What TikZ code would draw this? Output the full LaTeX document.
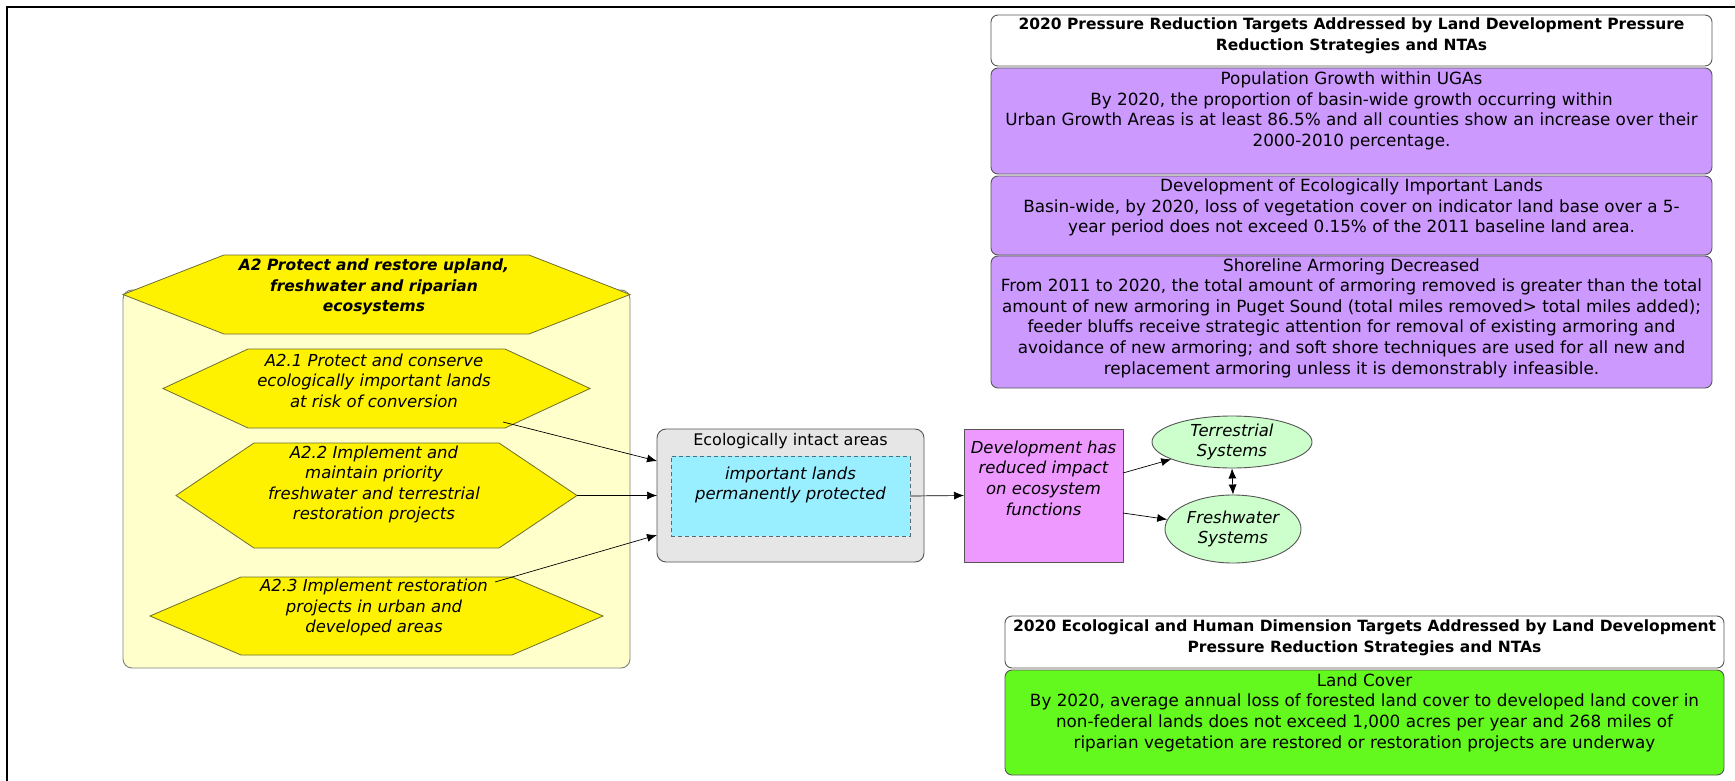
\documentclass[tikz,border=0pt]{standalone}
\usepackage{fontspec}
\setmainfont{DejaVu Sans}
\usetikzlibrary{arrows.meta,shapes.geometric}
\definecolor{purp}{HTML}{CC99FF}
\definecolor{magb}{HTML}{EE99FF}
\definecolor{cyanb}{HTML}{99EEFF}
\definecolor{greenb}{HTML}{64F91E}
\definecolor{ellg}{HTML}{CCFFCC}
\definecolor{contb}{HTML}{FFFFCC}
\definecolor{grayb}{HTML}{E6E6E6}
\definecolor{hexb}{HTML}{6E6E30}
\definecolor{edge}{HTML}{555555}
\definecolor{dashc}{HTML}{4F6F7A}
\begin{document}
\begin{tikzpicture}[x=1pt,y=-1pt,
  box/.style={draw=edge, line width=0.9pt, rounded corners=7pt, inner sep=0pt, outer sep=0pt},
  hexframe/.style={inner sep=0pt, outer sep=0pt},
  rtxt/.style={align=center, inner sep=0pt, font=\fontsize{16.8}{20.6}\selectfont},
  gtxt/.style={align=center, inner sep=0pt, font=\fontsize{16}{20.6}\selectfont},
  itxt/.style={align=center, inner sep=0pt, font=\fontsize{16.5}{20.6}\selectfont\itshape},
  btxt/.style={align=center, inner sep=0pt, font=\fontsize{15.5}{20.5}\selectfont\bfseries},
  bitxt/.style={align=center, inner sep=0pt, font=\fontsize{15.5}{20.5}\selectfont\bfseries\itshape},
  hex/.style={draw=hexb, fill=yellow, line width=0.8pt},
  tip/.style={},
  arr/.style={-{Latex[length=10pt,width=8pt]}, line width=0.7pt},
  darr/.style={{Latex[length=10pt,width=8pt]}-{Latex[length=10pt,width=8pt]}, line width=0.7pt},
]
\useasboundingbox (0,0) rectangle (1735,781);
\fill[white] (0,0) rectangle (1735,781);
\draw[line width=1.5pt] (1735,7) -- (7,7) -- (7,781);

% top-right target panel
\node[box, fill=white, minimum width=721pt, minimum height=51pt] (tr) at (1351.5,40.5) {};
\node[btxt] (trt) at (1351.5,36) {2020 Pressure Reduction Targets Addressed by Land Development Pressure\\Reduction Strategies and NTAs};
\node[box, fill=purp, minimum width=721pt, minimum height=106pt] (p1) at (1351.5,121) {};
\node[rtxt] (p1t) at (1351.5,111) {Population Growth within UGAs\\By 2020, the proportion of basin-wide growth occurring within\\Urban Growth Areas is at least 86.5\% and all counties show an increase over their\\2000-2010 percentage.};
\node[box, fill=purp, minimum width=721pt, minimum height=79pt] (p2) at (1351.5,215.5) {};
\node[rtxt] (p2t) at (1351.5,207.5) {Development of Ecologically Important Lands\\Basin-wide, by 2020, loss of vegetation cover on indicator land base over a 5-\\year period does not exceed 0.15\% of the 2011 baseline land area.};
\node[box, fill=purp, minimum width=721pt, minimum height=132pt] (p3) at (1351.5,322) {};
\node[rtxt] (p3t) at (1351.5,318) {Shoreline Armoring Decreased\\From 2011 to 2020, the total amount of armoring removed is greater than the total\\amount of new armoring in Puget Sound (total miles removed> total miles added);\\feeder bluffs receive strategic attention for removal of existing armoring and\\avoidance of new armoring; and soft shore techniques are used for all new and\\replacement armoring unless it is demonstrably infeasible.};

% bottom-right target panel
\node[box, fill=white, minimum width=719pt, minimum height=52pt] (br) at (1364.5,642) {};
\node[btxt] (brt) at (1364.5,638) {2020 Ecological and Human Dimension Targets Addressed by Land Development\\Pressure Reduction Strategies and NTAs};
\node[box, fill=greenb, minimum width=719pt, minimum height=105pt] (gr) at (1364.5,722.5) {};
\node[rtxt] (grt) at (1364.5,712.5) {Land Cover\\By 2020, average annual loss of forested land cover to developed land cover in\\non-federal lands does not exceed 1,000 acres per year and 268 miles of\\riparian vegetation are restored or restoration projects are underway};

% strategy container
\node[box, draw=black!50, fill=contb, rounded corners=9pt, minimum width=507pt, minimum height=378pt] (cont) at (376.5,479) {};

% hexagons
\node[hexframe, minimum width=507pt, minimum height=79pt] (a2) at (376.5,294.5) {};
\draw[hex] (a2.west) -- ([xshift=101pt]a2.north west) -- ([xshift=-101pt]a2.north east) -- (a2.east) -- ([xshift=-101pt]a2.south east) -- ([xshift=101pt]a2.south west) -- cycle;
\node[bitxt] (a2t) at (374,287) {A2 Protect and restore upland,\\freshwater and riparian\\ecosystems};

\node[hexframe, minimum width=427pt, minimum height=79pt] (a21) at (376.5,388.5) {};
\draw[hex] (a21.west) -- ([xshift=85pt]a21.north west) -- ([xshift=-85pt]a21.north east) -- (a21.east) -- ([xshift=-85pt]a21.south east) -- ([xshift=85pt]a21.south west) -- cycle;
\node[itxt] (a21t) at (374,380.7) {A2.1 Protect and conserve\\ecologically important lands\\at risk of conversion};

\node[hexframe, minimum width=401pt, minimum height=105pt] (a22) at (376.5,495.5) {};
\draw[hex] (a22.west) -- ([xshift=78pt]a22.north west) -- ([xshift=-78pt]a22.north east) -- (a22.east) -- ([xshift=-78pt]a22.south east) -- ([xshift=78pt]a22.south west) -- cycle;
\node[itxt] (a22t) at (374,484.5) {A2.2 Implement and\\maintain priority\\freshwater and terrestrial\\restoration projects};

\node[hexframe, minimum width=453pt, minimum height=78pt] (a23) at (376.5,616) {};
\draw[hex] (a23.west) -- ([xshift=91pt]a23.north west) -- ([xshift=-91pt]a23.north east) -- (a23.east) -- ([xshift=-91pt]a23.south east) -- ([xshift=91pt]a23.south west) -- cycle;
\node[itxt] (a23t) at (374,607.7) {A2.3 Implement restoration\\projects in urban and\\developed areas};

% intact areas
\node[box, fill=grayb, rounded corners=9pt, minimum width=267pt, minimum height=133pt] (gray) at (790.5,495.5) {};
\node[gtxt] (grayt) at (790.5,441) {Ecologically intact areas};
\node[draw=dashc, dash pattern=on 4pt off 3pt, fill=cyanb, line width=0.9pt, inner sep=0pt, outer sep=0pt, minimum width=239pt, minimum height=80pt] (cyan) at (790.5,496) {};
\node[itxt] (cyant) at (790.5,485) {important lands\\permanently protected};

% result
\node[draw=edge, fill=magb, line width=0.9pt, inner sep=0pt, outer sep=0pt, minimum width=159pt, minimum height=133pt] (mag) at (1043.5,495.5) {};
\node[itxt] (magt) at (1043.5,478) {Development has\\reduced impact\\on ecosystem\\functions};

\node[ellipse, draw=edge, fill=ellg, line width=0.9pt, inner sep=0pt, minimum width=160pt, minimum height=52pt, itxt] (ter) at (1232,442) {Terrestrial\\Systems};
\node[ellipse, draw=edge, fill=ellg, line width=0.9pt, inner sep=0pt, minimum width=136pt, minimum height=68pt, itxt] (fresh) at (1233,529) {Freshwater\\Systems};

% connectors
\coordinate (s21) at (503,422);
\coordinate (s23) at (495,582);
\draw[arr] (s21) -- ([yshift=34.5pt]gray.west);
\draw[arr] (a22.east) -- (gray.west);
\draw[arr] (s23) -- ([yshift=-39.5pt]gray.west);
\draw[arr] (cyan.east) -- (mag.west);
\draw[arr] ([yshift=22.5pt]mag.east) -- (ter);
\draw[arr] ([yshift=-17.5pt]mag.east) -- (fresh);
\draw[darr] (ter.south) -- (fresh.north);
\end{tikzpicture}
\end{document}
